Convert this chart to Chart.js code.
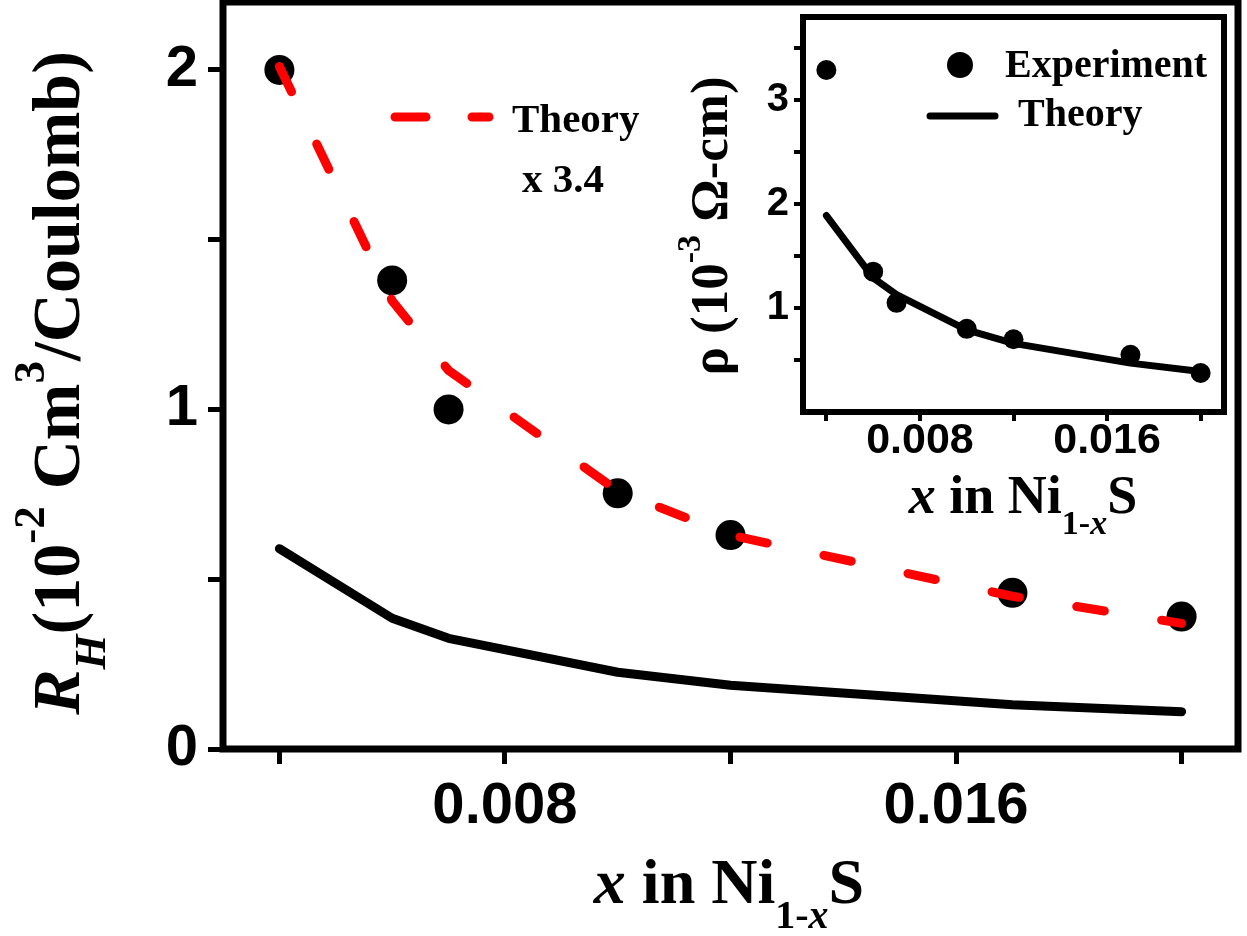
<!DOCTYPE html>
<html>
<head>
<meta charset="utf-8">
<script src="https://cdn.jsdelivr.net/npm/chart.js@4/dist/chart.umd.min.js"></script>
<style>
  body { margin: 0; background: #fff; }
  #wrap { position: relative; width: 1247px; height: 936px; }
  #mainChart { position: absolute; left: 0; top: 0; }
  #insetChart { position: absolute; left: 640px; top: 0; }
</style>
</head>
<body>
<div id="wrap">
  <canvas id="mainChart" width="1247" height="936"></canvas>
  <canvas id="insetChart" width="607" height="560"></canvas>
</div>
<script>
// x in Ni(1-x)S
const xVals = [0.004, 0.006, 0.007, 0.010, 0.012, 0.017, 0.020];
// Hall coefficient, 10^-2 cm^3/C
const hallExp = [2.00, 1.38, 1.00, 0.753, 0.63, 0.46, 0.39];
const hallTheoryX34 = [2.01, 1.32, 1.115, 0.76, 0.63, 0.45, 0.37];
const hallTheory = [0.59, 0.385, 0.326, 0.226, 0.188, 0.13, 0.11];
// resistivity, 10^-3 ohm-cm (inset)
const rhoExp = [3.29, 1.35, 1.05, 0.80, 0.70, 0.55, 0.375];
const rhoTheory = [1.89, 1.29, 1.13, 0.79, 0.66, 0.47, 0.39];
// ticks
const xTicks = [0.004, 0.008, 0.012, 0.016, 0.020];
const xTickLabels = ['', '0.008', '', '0.016', ''];
const hallTicks = [0, 0.5, 1, 1.5, 2];
const hallTickLabels = ['0', '', '1', '', '2'];
const rhoTicks = [0.5, 1, 1.5, 2, 2.5, 3, 3.5];
const rhoTickLabels = ['', '1', '', '2', '', '3', ''];

const SANS = '"Liberation Sans", Arial, sans-serif';
const SERIF = '"Liberation Serif", "Times New Roman", serif';

function pts(ys) {
  return xVals.map((x, i) => ({ x: x, y: ys[i] }));
}

// draw a row of text pieces centred on x
function drawRuns(ctx, parts, x, y) {
  let w = 0;
  parts.forEach(p => { ctx.font = p.f; p.w = ctx.measureText(p.t).width; w += p.w; });
  let cx = x - w / 2;
  ctx.textAlign = 'left';
  ctx.textBaseline = 'alphabetic';
  parts.forEach(p => {
    ctx.font = p.f;
    ctx.fillText(p.t, cx, y + (p.dy || 0));
    cx += p.w;
  });
}

function tickSetter(vals) {
  return s => { s.ticks = vals.map(v => ({ value: v })); };
}

// pin axis sizes so the plot area lands where the figure has it
function fixSize(key, size) {
  return s => {
    s[key] = size;
    s.paddingTop = 0; s.paddingBottom = 0;
    s.paddingLeft = 0; s.paddingRight = 0;
  };
}

const mainDecor = {
  id: 'mainDecor',
  afterDraw(chart) {
    const ctx = chart.ctx;
    const a = chart.chartArea;
    ctx.save();
    ctx.strokeStyle = '#000';
    ctx.lineWidth = 7;
    ctx.strokeRect(a.left, a.top, a.right - a.left, a.bottom - a.top);

    ctx.fillStyle = '#000';
    // x title
    drawRuns(ctx, [
      { t: 'x', f: 'italic bold 64px ' + SERIF },
      { t: ' in Ni', f: 'bold 64px ' + SERIF },
      { t: '1-', f: 'bold 40px ' + SERIF, dy: 25 },
      { t: 'x', f: 'italic bold 40px ' + SERIF, dy: 25 },
      { t: 'S', f: 'bold 64px ' + SERIF }
    ], 729, 903);

    // y title
    ctx.save();
    ctx.translate(79, 383);
    ctx.rotate(-Math.PI / 2);
    drawRuns(ctx, [
      { t: 'R', f: 'italic bold 68px ' + SERIF },
      { t: 'H', f: 'italic bold 45px ' + SERIF, dy: 26 },
      { t: '(10', f: 'bold 68px ' + SERIF },
      { t: '-2', f: 'bold 45px ' + SERIF, dy: -35 },
      { t: ' Cm', f: 'bold 68px ' + SERIF },
      { t: '3', f: 'bold 45px ' + SERIF, dy: -35 },
      { t: '/Coulomb)', f: 'bold 68px ' + SERIF }
    ], 0, 0);
    ctx.restore();

    // legend
    ctx.strokeStyle = '#ff0000';
    ctx.lineWidth = 9;
    ctx.lineCap = 'round';
    ctx.beginPath();
    ctx.moveTo(395, 117); ctx.lineTo(426, 117);
    ctx.moveTo(472, 117); ctx.lineTo(489, 117);
    ctx.stroke();
    ctx.font = 'bold 41px ' + SERIF;
    ctx.textAlign = 'left';
    ctx.textBaseline = 'alphabetic';
    ctx.fillText('Theory', 512, 132);
    ctx.fillText('x 3.4', 522, 192);
    ctx.restore();
  }
};

const insetDecor = {
  id: 'insetDecor',
  afterDraw(chart) {
    const ctx = chart.ctx;
    const a = chart.chartArea;
    ctx.save();
    ctx.strokeStyle = '#000';
    ctx.lineWidth = 6;
    ctx.strokeRect(a.left, a.top, a.right - a.left, a.bottom - a.top);
    ctx.fillStyle = '#000';

    drawRuns(ctx, [
      { t: 'x', f: 'italic bold 54px ' + SERIF },
      { t: ' in Ni', f: 'bold 54px ' + SERIF },
      { t: '1-', f: 'bold 34px ' + SERIF, dy: 21 },
      { t: 'x', f: 'italic bold 34px ' + SERIF, dy: 21 },
      { t: 'S', f: 'bold 54px ' + SERIF }
    ], 1023 - 640, 513);

    ctx.save();
    ctx.translate(727 - 640, 226);
    ctx.rotate(-Math.PI / 2);
    drawRuns(ctx, [
      { t: 'ρ (10', f: 'bold 53px ' + SERIF },
      { t: '-3', f: 'bold 34px ' + SERIF, dy: -27 },
      { t: ' Ω-cm)', f: 'bold 53px ' + SERIF }
    ], 0, 0);
    ctx.restore();

    // legend
    ctx.beginPath();
    ctx.arc(960 - 640, 65, 13, 0, Math.PI * 2);
    ctx.fill();
    ctx.strokeStyle = '#000';
    ctx.lineWidth = 7;
    ctx.lineCap = 'round';
    ctx.beginPath();
    ctx.moveTo(930 - 640, 116); ctx.lineTo(995 - 640, 116);
    ctx.stroke();
    ctx.font = 'bold 40px ' + SERIF;
    ctx.textAlign = 'left';
    ctx.textBaseline = 'alphabetic';
    ctx.fillText('Experiment', 1005 - 640, 77);
    ctx.fillText('Theory', 1018 - 640, 126);
    ctx.restore();
  }
};

new Chart(document.getElementById('mainChart'), {
  type: 'scatter',
  data: {
    datasets: [
      {
        label: 'Theory x 3.4',
        data: pts(hallTheoryX34),
        showLine: true,
        borderColor: '#ff0000',
        borderWidth: 9,
        borderDash: [28, 58],
        borderCapStyle: 'round',
        pointRadius: 0
      },
      {
        label: 'Theory',
        data: pts(hallTheory),
        showLine: true,
        borderColor: '#000',
        borderWidth: 9,
        borderCapStyle: 'round',
        borderJoinStyle: 'round',
        pointRadius: 0
      },
      {
        label: 'Experiment',
        data: pts(hallExp),
        pointRadius: 15,
        pointBackgroundColor: '#000',
        pointBorderWidth: 0
      }
    ]
  },
  options: {
    responsive: false,
    animation: false,
    layout: { autoPadding: false, padding: { top: 2, right: 9, left: 0, bottom: 0 } },
    plugins: { legend: { display: false }, tooltip: { enabled: false } },
    scales: {
      x: {
        type: 'linear',
        min: 0.003,
        max: 0.021,
        afterBuildTicks: tickSetter(xTicks),
        afterFit: fixSize('height', 187),
        grid: { drawOnChartArea: false, tickLength: 15, lineWidth: 5, color: '#000' },
        border: { display: false },
        ticks: {
          padding: 8,
          color: '#000',
          maxRotation: 0,
          minRotation: 0,
          autoSkip: false,
          font: { family: SANS, size: 58, weight: 'bold' },
          callback: (v, i) => xTickLabels[i]
        }
      },
      y: {
        min: 0,
        max: 2.2,
        afterBuildTicks: tickSetter(hallTicks),
        afterFit: fixSize('width', 223),
        grid: { drawOnChartArea: false, tickLength: 15, lineWidth: 5, color: '#000' },
        border: { display: false },
        ticks: {
          padding: 10,
          color: '#000',
          autoSkip: false,
          font: { family: SANS, size: 58, weight: 'bold' },
          callback: (v, i) => hallTickLabels[i]
        }
      }
    }
  },
  plugins: [mainDecor]
});

new Chart(document.getElementById('insetChart'), {
  type: 'scatter',
  data: {
    datasets: [
      {
        label: 'Theory',
        data: xVals.map((x, i) => ({ x: x, y: rhoTheory[i] })),
        showLine: true,
        borderColor: '#000',
        borderWidth: 7,
        borderCapStyle: 'round',
        borderJoinStyle: 'round',
        pointRadius: 0
      },
      {
        label: 'Experiment',
        data: xVals.map((x, i) => ({ x: x, y: rhoExp[i] })),
        pointRadius: 10,
        pointBackgroundColor: '#000',
        pointBorderWidth: 0
      }
    ]
  },
  options: {
    responsive: false,
    animation: false,
    layout: { autoPadding: false, padding: { top: 17, right: 23, left: 0, bottom: 0 } },
    plugins: { legend: { display: false }, tooltip: { enabled: false } },
    scales: {
      x: {
        type: 'linear',
        min: 0.003,
        max: 0.021,
        afterBuildTicks: tickSetter(xTicks),
        afterFit: fixSize('height', 148),
        grid: { drawOnChartArea: false, tickLength: 9, lineWidth: 4, color: '#000' },
        border: { display: false },
        ticks: {
          padding: -1,
          color: '#000',
          maxRotation: 0,
          minRotation: 0,
          autoSkip: false,
          font: { family: SANS, size: 43, weight: 'bold', lineHeight: 1 },
          callback: (v, i) => xTickLabels[i]
        }
      },
      y: {
        min: 0,
        max: 3.8,
        afterBuildTicks: tickSetter(rhoTicks),
        afterFit: fixSize('width', 163),
        grid: { drawOnChartArea: false, tickLength: 9, lineWidth: 4, color: '#000' },
        border: { display: false },
        ticks: {
          padding: 5,
          color: '#000',
          autoSkip: false,
          font: { family: SANS, size: 40, weight: 'bold' },
          callback: (v, i) => rhoTickLabels[i]
        }
      }
    }
  },
  plugins: [insetDecor]
});
</script>
</body>
</html>
